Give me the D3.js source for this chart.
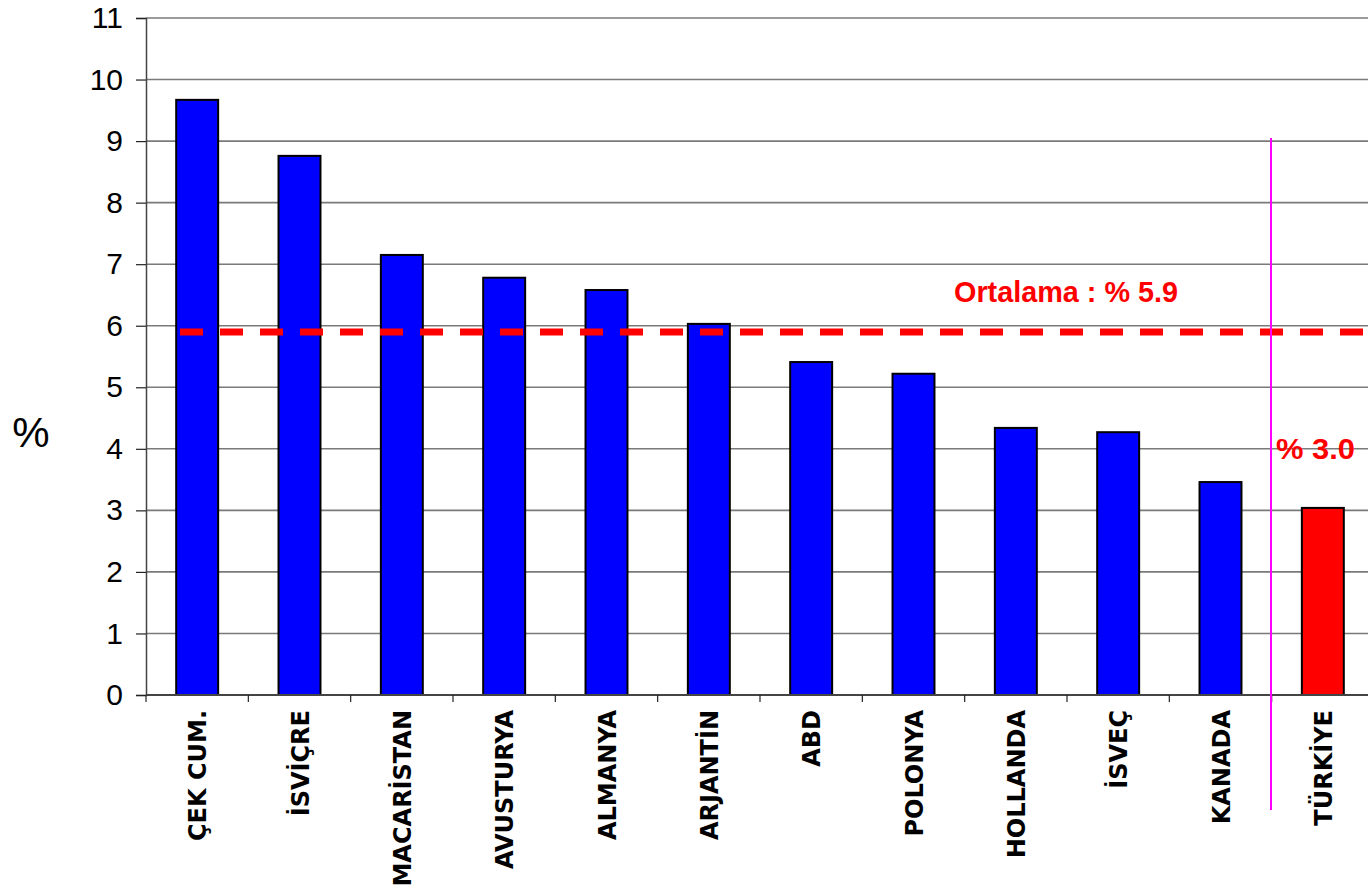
<!DOCTYPE html>
<html>
<head>
<meta charset="utf-8">
<script src="https://cdn.jsdelivr.net/npm/d3@7"></script>
<style>
  body { margin: 0; background: #fff; }
  svg { display: block; }
</style>
</head>
<body>
<div id="chart"></div>
<script>
const countries = ["ÇEK CUM.", "İSVİÇRE", "MACARİSTAN", "AVUSTURYA", "ALMANYA", "ARJANTİN",
                   "ABD", "POLONYA", "HOLLANDA", "İSVEÇ", "KANADA", "TÜRKİYE"]
const values = [9.67, 8.76, 7.15, 6.78, 6.58, 6.03, 5.41, 5.22, 4.34, 4.27, 3.46, 3.04]
const yTicks = [0, 1, 2, 3, 4, 5, 6, 7, 8, 9, 10, 11]
const average = 5.9
const avgLabel = "Ortalama : % 5.9"
const turkeyLabel = "% 3.0"

const W = 1368, H = 892
const mLeft = 146, mTop = 18, mBottom = 695, mRight = 1374

const svg = d3.select("#chart").append("svg").attr("width", W).attr("height", H)

const x = d3.scaleBand().domain(countries).range([mLeft, mRight]).paddingInner(0.59).paddingOuter(0.295)
const y = d3.scaleLinear().domain([0, 11]).range([mBottom, mTop])

// grid
svg.append("g").selectAll("line")
   .data(yTicks.filter(d => d > 0))
   .enter().append("line")
   .attr("x1", mLeft).attr("x2", W)
   .attr("y1", d => y(d)).attr("y2", d => y(d))
   .attr("stroke", "#7a7a7a").attr("stroke-width", 1.6)

// bars
svg.append("g").selectAll("rect")
   .data(values)
   .enter().append("rect")
   .attr("x", (d, i) => x(countries[i]))
   .attr("y", d => y(d))
   .attr("width", x.bandwidth())
   .attr("height", d => y(0) - y(d))
   .attr("fill", (d, i) => countries[i] === "TÜRKİYE" ? "#ff0000" : "#0000ff")
   .attr("stroke", "#000").attr("stroke-width", 2)

// y axis
const yAxis = d3.axisLeft(y).tickValues(yTicks).tickSize(10).tickPadding(13)
const gy = svg.append("g").attr("transform", `translate(${mLeft},0)`).call(yAxis)
gy.select(".domain").attr("stroke", "#444").attr("stroke-width", 1.5)
gy.selectAll(".tick line").attr("stroke", "#222").attr("stroke-width", 1.2)
gy.selectAll(".tick text")
  .attr("font-family", "Liberation Sans Narrow, Arial Narrow, Liberation Sans, sans-serif")
  .attr("font-size", 30).attr("fill", "#000")

// x axis line + ticks between categories
const step = x.step()
svg.append("line")
   .attr("x1", mLeft).attr("x2", W)
   .attr("y1", mBottom).attr("y2", mBottom)
   .attr("stroke", "#444").attr("stroke-width", 2)
svg.append("g").selectAll("line")
   .data(d3.range(countries.length + 1))
   .enter().append("line")
   .attr("x1", i => mLeft + i * step).attr("x2", i => mLeft + i * step)
   .attr("y1", mBottom).attr("y2", mBottom + 7)
   .attr("stroke", "#222").attr("stroke-width", 1.2)

// x labels (rotated)
svg.append("g").selectAll("text")
   .data(countries)
   .enter().append("text")
   .attr("transform", d => `translate(${x(d) + x.bandwidth() / 2 + 9},${mBottom + 15}) rotate(-90)`)
   .attr("text-anchor", "end")
   .attr("font-family", "DejaVu Sans, Verdana, sans-serif")
   .attr("font-weight", "bold")
   .attr("font-size", 24)
   .attr("fill", "#000")
   .text(d => d)

// % axis title
svg.append("text")
   .attr("x", 31).attr("y", 447)
   .attr("text-anchor", "middle")
   .attr("font-family", "Liberation Sans, Arial, sans-serif")
   .attr("font-size", 42)
   .text("%")

// average line
svg.append("line")
   .attr("x1", 180).attr("x2", W)
   .attr("y1", y(average)).attr("y2", y(average))
   .attr("stroke", "#ff0000").attr("stroke-width", 7)
   .attr("stroke-dasharray", "23 17")

svg.append("text")
   .attr("x", 954).attr("y", 302)
   .attr("font-family", "Liberation Sans Narrow, Arial Narrow, sans-serif")
   .attr("font-weight", "bold")
   .attr("font-size", 30)
   .attr("textLength", 224).attr("lengthAdjust", "spacingAndGlyphs")
   .attr("fill", "#ff0000")
   .text(avgLabel)

// separator
svg.append("line")
   .attr("x1", 1271).attr("x2", 1271)
   .attr("y1", 138).attr("y2", 810)
   .attr("stroke", "#ff00ff").attr("stroke-width", 2)

svg.append("text")
   .attr("x", 1276).attr("y", 459)
   .attr("font-family", "Liberation Sans Narrow, Arial Narrow, sans-serif")
   .attr("font-weight", "bold")
   .attr("font-size", 30)
   .attr("textLength", 79).attr("lengthAdjust", "spacingAndGlyphs")
   .attr("fill", "#ff0000")
   .text(turkeyLabel)
</script>
</body>
</html>
